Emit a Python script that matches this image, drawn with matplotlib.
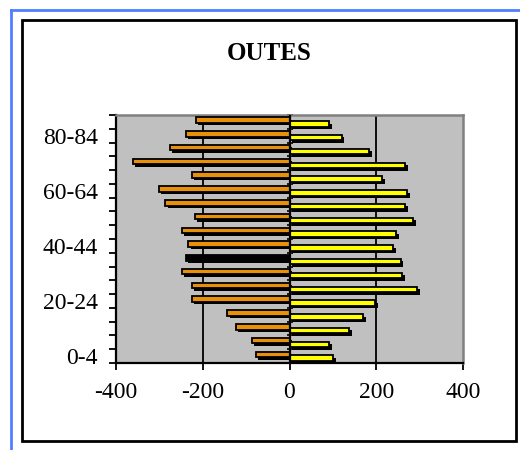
import matplotlib
matplotlib.use("Agg")
import matplotlib.pyplot as plt
import matplotlib.patheffects as pe
from matplotlib.lines import Line2D
from matplotlib.patches import Rectangle
import numpy as np

age_groups = ["0-4", "5-9", "10-14", "15-19", "20-24", "25-29", "30-34", "35-39",
              "40-44", "45-49", "50-54", "55-59", "60-64", "65-69", "70-74",
              "75-79", "80-84", "85+"]
males = [-78, -87, -124, -143, -225, -225, -248, -239, -234, -248, -218, -287,
         -301, -225, -361, -276, -239, -216]
females = [101, 92, 138, 170, 198, 294, 260, 257, 239, 246, 285, 267, 271, 214,
           267, 184, 120, 92]
male_colors = ["#E8900A"] * len(age_groups)
male_colors[7] = "#000000"
female_color = "#FFFF00"
x_ticks = [-400, -200, 0, 200, 400]
title = "OUTES"

plt.rcParams["font.family"] = ["Liberation Serif", "DejaVu Serif"]

fig = plt.figure(figsize=(5.2, 4.5), dpi=100)
fig.patch.set_facecolor("white")

# outer decorations
fig.add_artist(Line2D([11/520, 1.0], [1-10/450, 1-10/450], color="#4F7FFF", lw=2,
                      transform=fig.transFigure))
fig.add_artist(Line2D([11/520, 11/520], [0, 1-10/450], color="#4F7FFF", lw=2,
                      transform=fig.transFigure))
fig.add_artist(Rectangle((22/520, 9/450), 494/520, 421/450, fill=False,
                         edgecolor="black", lw=2, transform=fig.transFigure))

ax = fig.add_axes([116/520, (450-363)/450, 347/520, 248/450])
ax.set_facecolor("#C0C0C0")

y = np.arange(len(age_groups))
h = 0.4
shadow = [pe.SimplePatchShadow(offset=(1.8, -1.8), shadow_rgbFace="black", alpha=1.0),
          pe.Normal()]
bm = ax.barh(y + 0.13, males, height=h, color=male_colors, edgecolor="black",
             linewidth=1.3, zorder=3)
bf = ax.barh(y - 0.15, females, height=h, color=female_color, edgecolor="black",
             linewidth=1.3, zorder=3)
for b in list(bm) + list(bf):
    b.set_path_effects(shadow)

ax.set_xlim(-400, 400)
ax.set_ylim(-0.5, len(age_groups) - 0.5)

for v in x_ticks:
    if v not in (-400, 0, 400):
        ax.axvline(v, color="black", lw=1.3, zorder=1)
ax.axvline(0, color="black", lw=1.6, zorder=4)

ax.set_xticks(x_ticks)
ax.set_xticklabels([str(v) for v in x_ticks], fontsize=17)
ax.tick_params(axis="x", direction="out", length=5, width=1.3, pad=9)

boundaries = np.arange(-0.5, len(age_groups), 1.0)
ax.set_yticks(boundaries)
ax.set_yticklabels([])
ax.tick_params(axis="y", which="major", direction="out", length=5, width=1.3)
ax.set_yticks(y[::4], minor=True)
ax.set_yticklabels(age_groups[::4], minor=True, fontsize=17)
ax.tick_params(axis="y", which="minor", length=0, pad=13)

# zero-axis cross ticks
sec = ax.secondary_yaxis(0.5)
sec.set_yticks(boundaries)
sec.set_yticklabels([])
sec.tick_params(direction="inout", length=4, width=1.2)
sec.spines["right"].set_visible(False)

for s in ["top", "right"]:
    ax.spines[s].set_color("#808080")
    ax.spines[s].set_linewidth(1.8)
ax.spines["left"].set_color("black")
ax.spines["left"].set_linewidth(1.6)
ax.spines["bottom"].set_color("black")
ax.spines["bottom"].set_linewidth(1.6)

fig.text(269/520, 1 - 53/450, title, ha="center", va="center", fontsize=18,
         fontweight="bold")

fig.savefig("out.png", dpi=100)
